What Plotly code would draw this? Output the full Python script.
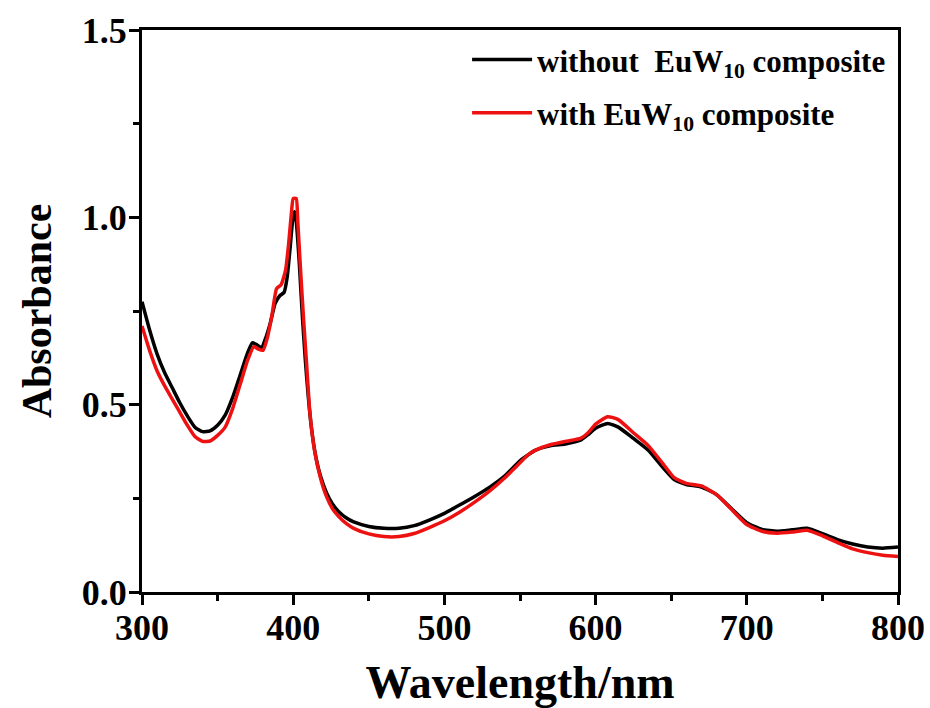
import plotly.graph_objects as go

# UV-vis absorption spectra (absorbance vs wavelength)
wl_without = [300, 305, 310, 315, 320, 325, 330, 335, 340, 345, 350, 355, 360, 365,
              370, 373, 376, 379, 382, 385, 388, 391, 394, 396, 398, 400, 401, 402,
              404, 406, 408, 410, 412, 415, 418, 422, 426, 430, 435, 440, 450, 460,
              470, 480, 490, 500, 510, 520, 530, 540, 550, 555, 560, 570, 580, 590,
              595, 600, 608, 615, 625, 635, 645, 652, 660, 670, 680, 690, 700, 710,
              720, 730, 740, 750, 760, 770, 780, 790, 800]
abs_without = [0.775, 0.70, 0.635, 0.585, 0.545, 0.505, 0.47, 0.44, 0.428, 0.43, 0.445,
               0.472, 0.52, 0.58, 0.64, 0.665, 0.66, 0.652, 0.68, 0.72, 0.77, 0.79,
               0.80, 0.84, 0.92, 1.005, 1.015, 0.99, 0.88, 0.74, 0.62, 0.52, 0.44,
               0.36, 0.31, 0.265, 0.235, 0.215, 0.198, 0.187, 0.175, 0.170, 0.170,
               0.177, 0.192, 0.21, 0.232, 0.255, 0.28, 0.31, 0.35, 0.365, 0.378, 0.39,
               0.395, 0.405, 0.42, 0.437, 0.450, 0.44, 0.41, 0.378, 0.33, 0.30, 0.287,
               0.28, 0.26, 0.222, 0.185, 0.167, 0.162, 0.166, 0.170, 0.156, 0.14,
               0.128, 0.12, 0.117, 0.12]

wl_with = [300, 305, 310, 315, 320, 325, 330, 335, 340, 345, 350, 355, 360, 365, 370,
           374, 377, 380, 383, 386, 389, 392, 395, 397, 399, 400, 402, 403, 405, 407,
           409, 411, 414, 418, 422, 426, 430, 435, 440, 450, 460, 470, 480, 490, 500,
           510, 520, 530, 540, 550, 555, 560, 570, 580, 590, 595, 600, 608, 615, 625,
           635, 645, 652, 660, 670, 680, 690, 700, 710, 720, 730, 740, 750, 760, 770,
           780, 790, 800]
abs_with = [0.71, 0.645, 0.59, 0.55, 0.515, 0.48, 0.445, 0.415, 0.402, 0.403, 0.418,
            0.44, 0.49, 0.555, 0.62, 0.655, 0.648, 0.645, 0.68, 0.74, 0.81, 0.82,
            0.86, 0.93, 1.02, 1.05, 1.05, 0.99, 0.85, 0.72, 0.60, 0.48, 0.38, 0.305,
            0.255, 0.222, 0.202, 0.183, 0.17, 0.155, 0.148, 0.148, 0.156, 0.172, 0.19,
            0.213, 0.24, 0.27, 0.305, 0.345, 0.365, 0.378, 0.393, 0.402, 0.41, 0.425,
            0.448, 0.468, 0.46, 0.425, 0.39, 0.34, 0.305, 0.29, 0.283, 0.26, 0.22,
            0.18, 0.162, 0.157, 0.16, 0.165, 0.15, 0.132, 0.115, 0.105, 0.098, 0.095]

x_ticks = [300, 400, 500, 600, 700, 800]
y_ticks = [0.0, 0.5, 1.0, 1.5]
y_tick_text = ["0.0", "0.5", "1.0", "1.5"]

FONT = "Liberation Serif, Times New Roman, serif"

fig = go.Figure()
fig.add_trace(go.Scatter(
    x=wl_without, y=abs_without, mode="lines",
    name="<b>without  EuW<sub>10</sub> composite</b>",
    line=dict(color="#000000", width=3.5, shape="spline", smoothing=0.5),
    legendgroup="a",
))
fig.add_trace(go.Scatter(
    x=wl_with, y=abs_with, mode="lines",
    name="<b>with EuW<sub>10</sub> composite</b>",
    line=dict(color="#ee1111", width=3.5, shape="spline", smoothing=0.5),
    legendgroup="b",
))

axis_common = dict(
    showline=True, linecolor="black", linewidth=3, mirror=True,
    showgrid=False, zeroline=False, automargin=False,
    ticks="outside", ticklen=10, tickwidth=3, tickcolor="black",
    tickfont=dict(family=FONT, size=36, color="black", weight="bold"),
)

fig.update_xaxes(
    range=[300, 800], tickvals=x_ticks, ticklabelstandoff=-8,
    minor=dict(ticks="outside", ticklen=6, tickwidth=2.5, tickcolor="black", dtick=50),
    title=dict(text="<b>Wavelength/nm</b>", font=dict(family=FONT, size=46, color="black"),
               standoff=22),
    **axis_common,
)
fig.update_yaxes(
    range=[0, 1.5], tickvals=y_ticks, ticktext=y_tick_text, ticklabelstandoff=-5,
    minor=dict(ticks="outside", ticklen=6, tickwidth=2.5, tickcolor="black", dtick=0.25),
    title=dict(text="<b>Absorbance</b>", font=dict(family=FONT, size=42, color="black"),
               standoff=18),
    **axis_common,
)

fig.update_layout(
    width=930, height=708,
    margin=dict(l=142, r=32, t=30, b=116),
    paper_bgcolor="white", plot_bgcolor="white",
    showlegend=True,
    legend=dict(
        x=0.43, y=0.995, xanchor="left", yanchor="top",
        bgcolor="rgba(0,0,0,0)", borderwidth=0,
        font=dict(family=FONT, size=31, color="black"),
        tracegroupgap=10, itemwidth=60,
    ),
)

fig.write_html("out.html")
